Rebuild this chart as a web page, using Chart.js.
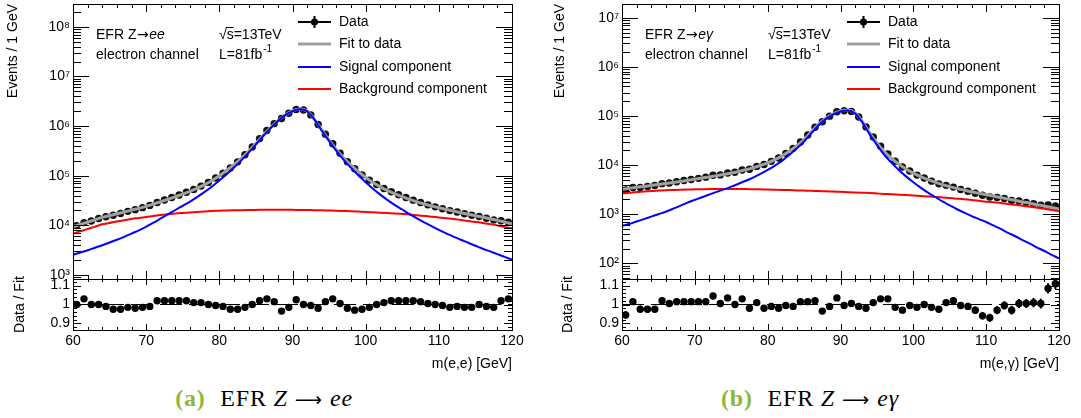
<!DOCTYPE html>
<html>
<head>
<meta charset="utf-8">
<script src="https://cdn.jsdelivr.net/npm/chart.js@4.4.1/dist/chart.umd.min.js"></script>
<style>
  html, body { margin: 0; padding: 0; background: #fff; }
  body { width: 1081px; height: 418px; position: relative; overflow: hidden; }
  canvas { position: absolute; }
  .cap {
    position: absolute; top: 384px; transform: translateX(-50%);
    font-family: "Liberation Serif", "DejaVu Serif", serif; font-size: 24px;
    letter-spacing: 0.8px; color: #000; white-space: nowrap; line-height: 28px;
  }
  .cap b { color: #8cb83a; margin-right: 8px; }
  .cap .ar { font-family: "DejaVu Sans", sans-serif; font-size: 19px; margin: 0 8px 0 7px;
             letter-spacing: 0; }
</style>
</head>
<body>
<canvas id="eeMain" width="540" height="290" style="left:0;top:0"></canvas>
<canvas id="eeRatio" width="540" height="108" style="left:0;top:270px"></canvas>
<canvas id="egMain" width="541" height="290" style="left:540px;top:0"></canvas>
<canvas id="egRatio" width="541" height="108" style="left:540px;top:270px"></canvas>
<div class="cap" style="left:264px"><b>(a)</b> EFR <i>Z</i><span class="ar">&#x27F6;</span><i>ee</i></div>
<div class="cap" style="left:810px"><b>(b)</b> EFR <i>Z</i><span class="ar">&#x27F6;</span><i>e&gamma;</i></div>
<script>
// Fit curves are sampled every 1 GeV, data are per 1 GeV bin.
const massGrid = [60,61,62,63,64,65,66,67,68,69,70,71,72,73,74,75,76,77,78,79,80,81,82,83,84,85,86,87,88,89,90,
  91,92,93,94,95,96,97,98,99,100,101,102,103,104,105,106,107,108,109,110,111,112,113,114,115,116,117,118,119,120];
const binCentres = [60.5,61.5,62.5,63.5,64.5,65.5,66.5,67.5,68.5,69.5,70.5,71.5,72.5,73.5,74.5,75.5,76.5,77.5,78.5,79.5,
  80.5,81.5,82.5,83.5,84.5,85.5,86.5,87.5,88.5,89.5,90.5,91.5,92.5,93.5,94.5,95.5,96.5,97.5,98.5,99.5,
  100.5,101.5,102.5,103.5,104.5,105.5,106.5,107.5,108.5,109.5,110.5,111.5,112.5,113.5,114.5,115.5,116.5,117.5,118.5,119.5];

// ---- Z -> ee ----
const eeData = [9910,11390,12300,13720,14950,16010,17410,19170,20770,22790,25290,28990,32430,36420,41030,46430,52810,61860,73390,89800,
  112500,143100,190600,264300,379600,560400,815900,1122700,1428300,1820400,2164800,2112000,1683900,1079100,687200,441400,283600,192200,138250,104300,
  81750,66470,55420,47510,41300,36350,32230,28820,25950,23620,21620,19860,18560,17140,15960,15120,13950,12910,12380,11530];
const eeFit = [9370,10450,11660,12950,14480,15720,17130,18590,20340,22040,24240,26850,30000,33590,37820,42630,48400,56180,66320,80450,
  100050,127200,166400,224500,312100,447100,651650,932650,1279650,1680650,2015550,2208500,2015400,1369300,833000,521150,335900,228400,163800,121250,
  92730,73250,59690,50060,43100,37890,33390,29800,26980,24660,22580,20870,19460,18030,16770,15640,14590,13590,12630,11650,10740];
const eeSignal = [2570,2850,3160,3550,3980,4520,5130,5890,6840,7940,9440,11350,13800,16790,20420,24830,30200,37580,47320,60950,
  80350,107200,146200,204200,291700,426600,631000,912000,1259000,1660000,1995000,2188000,1995000,1349000,812800,501200,316200,208900,144500,102300,
  74130,54950,41690,32360,25700,20890,16790,13800,11480,9660,8130,6920,5960,5130,4470,3890,3390,2990,2630,2320,2040];
const eeBackground = [6800,7600,8500,9400,10500,11200,12000,12700,13500,14100,14800,15500,16200,16800,17400,17800,18200,18600,19000,19500,
  19700,20000,20200,20300,20400,20500,20650,20650,20650,20650,20550,20500,20400,20300,20200,19950,19700,19500,19300,18950,
  18600,18300,18000,17700,17400,17000,16600,16000,15500,15000,14450,13950,13500,12900,12300,11750,11200,10600,10000,9330,8700];
const eeRatio = [1.00,1.03,1.00,1.00,0.99,0.975,0.975,0.985,0.98,0.985,0.99,1.02,1.02,1.02,1.02,1.02,1.01,1.01,1.00,0.995,
  0.99,0.975,0.975,0.985,1.00,1.02,1.03,1.015,0.965,0.985,1.025,1.00,0.995,0.98,1.015,1.03,1.005,0.98,0.97,0.975,
  0.985,1.00,1.01,1.02,1.02,1.02,1.02,1.015,1.005,1.00,0.995,0.985,0.99,0.985,0.985,1.00,0.99,0.985,1.02,1.03];
const eeRatioErr = [0.010,0.010,0.009,0.009,0.008,0.008,0.0075,0.007,0.007,0.0065,0.006,0.006,0.0055,0.0053,0.005,0.0047,0.0045,0.0042,0.004,0.0036,
  0.0032,0.0028,0.0025,0.0021,0.0017,0.0014,0.0011,0.0009,0.0008,0.0007,0.0007,0.0007,0.0008,0.0009,0.0012,0.0016,0.002,0.0024,0.0028,0.0031,
  0.0034,0.0038,0.0042,0.0045,0.0048,0.005,0.0053,0.0056,0.006,0.0063,0.0066,0.0069,0.0072,0.0075,0.0078,0.008,0.0083,0.0087,0.009,0.0094];

// ---- Z -> e gamma ----
const egData = [3098,3491,3511,3664,3833,4188,4316,4582,4835,5099,5371,5677,6188,6301,6898,7145,7949,8235,9386,10256,
  11903,13888,17278,21899,29511,41047,58742,76013,99050,122094,128086,123906,94956,59883,37213,24282,16779,11925,9109,7565,
  6247,5436,4700,4144,3865,3557,3190,2937,2675,2423,2242,2187,2093,1907,1849,1732,1631,1522,1539,1467];
const egFit = [3205,3351,3528,3674,3841,4020,4192,4398,4629,4898,5150,5433,5752,6091,6449,6881,7409,8026,8779,9807,
  11123,12922,15420,19310,24930,33220,47660,67520,90020,110080,125850,131610,114970,76860,45350,28340,18810,13770,10443,8338,
  6867,5817,5054,4489,4010,3644,3329,3082,2852,2664,2492,2329,2181,2027,1905,1775,1671,1559,1468,1368,1276];
const egSignal = [575,631,708,794,891,1000,1122,1288,1479,1718,1950,2213,2512,2851,3199,3631,4169,4786,5559,6607,
  7943,9772,12300,16220,21880,30200,44670,64570,87100,107200,123000,128800,112200,74130,42660,25700,16220,11220,7943,5888,
  4467,3467,2754,2239,1820,1514,1259,1072,912,794,692,589,501,417,355,295,251,209,178,148,126];
const egBackground = [2630,2720,2820,2880,2950,3020,3070,3110,3150,3180,3200,3220,3240,3240,3250,3250,3240,3240,3220,3200,
  3180,3150,3120,3090,3050,3020,2990,2950,2920,2880,2850,2810,2770,2730,2690,2640,2590,2550,2500,2450,
  2400,2350,2300,2250,2190,2130,2070,2010,1940,1870,1800,1740,1680,1610,1550,1480,1420,1350,1290,1220,1150];
const egRatio = [0.945,1.015,0.975,0.975,0.975,1.02,1.005,1.015,1.015,1.015,1.015,1.015,1.045,1.005,1.035,1.00,1.03,0.98,1.01,0.98,
  0.99,0.98,0.995,0.99,1.015,1.015,1.02,0.965,0.99,1.035,0.995,1.005,0.99,0.98,1.01,1.03,1.03,0.985,0.97,0.995,
  0.985,1.00,0.985,0.975,1.01,1.02,0.995,0.99,0.97,0.94,0.93,0.97,0.995,0.97,1.005,1.005,1.01,1.005,1.085,1.11];
const egRatioErr = [0.020,0.018,0.018,0.017,0.017,0.017,0.016,0.016,0.015,0.015,0.015,0.014,0.014,0.013,0.013,0.013,0.012,0.012,0.011,0.011,
  0.010,0.009,0.008,0.007,0.006,0.006,0.005,0.004,0.004,0.003,0.003,0.003,0.003,0.004,0.005,0.006,0.007,0.008,0.010,0.011,
  0.012,0.013,0.014,0.015,0.016,0.017,0.018,0.019,0.019,0.020,0.021,0.021,0.022,0.023,0.024,0.024,0.025,0.026,0.027,0.028];

// Axis tick values
const massTicks = [60, 70, 80, 90, 100, 110, 120];
const ratioTicks = [0.9, 1, 1.1];

const SANS = '"Liberation Sans", Arial, Helvetica, sans-serif';
const SUP = {'0':'⁰','1':'¹','2':'²','3':'³','4':'⁴','5':'⁵','6':'⁶','7':'⁷','8':'⁸','9':'⁹','-':'⁻'};
const pts = (xs, ys) => xs.map((x, i) => ({x, y: ys[i]}));

// Frame with inward ROOT-style ticks on all four sides
function framePlugin(t) {
  return {
    id: 'frame',
    afterDraw(chart) {
      const {ctx, chartArea: a, scales: {x, y}} = chart;
      ctx.save();
      ctx.strokeStyle = '#000';
      ctx.lineWidth = 1;
      ctx.beginPath();
      for (let v = x.min; v <= x.max + 1e-9; v += t.xMinorStep) {
        const px = Math.round(x.getPixelForValue(v)) + 0.5;
        const major = Math.abs(v / t.xMajorStep - Math.round(v / t.xMajorStep)) < 1e-6;
        const L = major ? t.xMajor : t.xMinor;
        ctx.moveTo(px, a.bottom); ctx.lineTo(px, a.bottom - L);
        ctx.moveTo(px, a.top); ctx.lineTo(px, a.top + L);
      }
      t.yTicks(y).forEach(([v, major]) => {
        const py = Math.round(y.getPixelForValue(v)) + 0.5;
        const L = major ? t.yMajor : t.yMinor;
        ctx.moveTo(a.left, py); ctx.lineTo(a.left + L, py);
        ctx.moveTo(a.right, py); ctx.lineTo(a.right - L, py);
      });
      ctx.stroke();
      ctx.strokeRect(Math.round(a.left) + 0.5, Math.round(a.top) + 0.5,
                     Math.round(a.right - a.left), Math.round(a.bottom - a.top));
      ctx.restore();
    }
  };
}
const logTicks = (y) => {
  const out = [];
  for (let d = Math.floor(Math.log10(y.min)); d <= Math.ceil(Math.log10(y.max)); d++) {
    for (let k = 1; k <= 9; k++) {
      const v = k * Math.pow(10, d);
      if (v >= y.min && v <= y.max) out.push([v, k === 1]);
    }
  }
  return out;
};
const ratioMinor = (y) => {
  const out = [];
  for (let i = 44; i <= 56; i++) {
    const v = i * 0.02;
    if (v >= y.min && v <= y.max) out.push([v, i % 5 === 0]);
  }
  return out;
};

// Error bars for the data points of one dataset
const errorBarPlugin = {
  id: 'errorBars',
  afterDatasetsDraw(chart, args, opts) {
    if (!opts.errors) return;
    const {ctx, chartArea: a} = chart;
    const ys = chart.scales.y;
    const ds = chart.data.datasets[opts.dataset];
    const meta = chart.getDatasetMeta(opts.dataset);
    ctx.save();
    ctx.beginPath(); ctx.rect(a.left, a.top, a.right - a.left, a.bottom - a.top); ctx.clip();
    ctx.strokeStyle = '#000'; ctx.lineWidth = 2;
    ctx.beginPath();
    meta.data.forEach((p, i) => {
      const v = ds.data[i].y, e = opts.errors[i];
      ctx.moveTo(p.x, ys.getPixelForValue(v + e));
      ctx.lineTo(p.x, ys.getPixelForValue(v - e));
    });
    ctx.stroke();
    ctx.restore();
  }
};

// In-frame labels and legend
function labelPlugin(final) {
  return {
    id: 'labels',
    afterDraw(chart) {
      const {ctx, chartArea: a} = chart;
      ctx.save();
      ctx.fillStyle = '#000';
      ctx.textBaseline = 'middle';
      const x0 = a.left + 23, x1 = a.left + 146;
      ctx.font = '14px ' + SANS;
      ctx.fillText('EFR Z', x0, 35);
      let w = ctx.measureText('EFR Z').width;
      ctx.font = '14px "DejaVu Sans", sans-serif';
      ctx.fillText('\u2192', x0 + w + 0.5, 35);
      w += ctx.measureText('\u2192').width + 1;
      ctx.font = 'italic 14px ' + SANS;
      ctx.fillText(final, x0 + w, 35);
      ctx.font = '14px ' + SANS;
      ctx.fillText('electron channel', x0, 55);
      // sqrt(s)=13TeV with an overbar on s
      ctx.fillText('\u221As=13TeV', x1, 35);
      const wr = ctx.measureText('\u221A').width, ws = ctx.measureText('s').width;
      ctx.strokeStyle = '#000'; ctx.lineWidth = 1;
      ctx.beginPath(); ctx.moveTo(x1 + wr - 1, 27.5); ctx.lineTo(x1 + wr + ws, 27.5); ctx.stroke();
      ctx.fillText('L=81fb', x1, 55);
      const wl = ctx.measureText('L=81fb').width;
      ctx.font = '10px ' + SANS;
      ctx.fillText('-1', x1 + wl + 1, 49);

      // legend
      const lx0 = a.left + 225, lx1 = a.left + 258, tx = a.left + 266;
      const rows = [22, 44, 67, 89];
      ctx.lineCap = 'butt';
      ctx.strokeStyle = '#000'; ctx.lineWidth = 2;
      ctx.beginPath(); ctx.moveTo(lx0, rows[0]); ctx.lineTo(lx1, rows[0]);
      ctx.moveTo((lx0 + lx1) / 2, rows[0] - 6); ctx.lineTo((lx0 + lx1) / 2, rows[0] + 6); ctx.stroke();
      ctx.fillStyle = '#000';
      ctx.beginPath(); ctx.arc((lx0 + lx1) / 2, rows[0], 3.6, 0, Math.PI * 2); ctx.fill();
      [['#a0a0a0', 3], ['#0000ff', 2], ['#ff0000', 2]].forEach(([c, lw], i) => {
        ctx.strokeStyle = c; ctx.lineWidth = lw;
        ctx.beginPath(); ctx.moveTo(lx0, rows[i + 1]); ctx.lineTo(lx1, rows[i + 1]); ctx.stroke();
      });
      ctx.fillStyle = '#000';
      ctx.font = '14px ' + SANS;
      ['Data', 'Fit to data', 'Signal component', 'Background component']
        .forEach((s, i) => ctx.fillText(s, tx, rows[i]));
      ctx.restore();
    }
  };
}

function fixWidth(w) {
  return (scale) => { scale.width = w; scale.paddingTop = 0; scale.paddingBottom = 0; };
}

function mainChart(id, p) {
  const curve = (label, ys, color, width, order) => ({
    label, data: pts(massGrid, ys), borderColor: color, borderWidth: width,
    pointRadius: 0, cubicInterpolationMode: 'monotone', fill: false, order
  });
  return new Chart(document.getElementById(id), {
    type: 'line',
    data: {
      datasets: [
        {label: 'Data', data: pts(binCentres, p.data), showLine: false, pointRadius: 3.7,
         pointBackgroundColor: '#111', pointBorderWidth: 0, order: 5},
        curve('Fit to data', p.fit, '#a0a0a0', 3, 4),
        curve('Background component', p.bkg, '#ff0000', 2, 3),
        curve('Signal component', p.sig, '#0000ff', 2, 2)
      ]
    },
    options: {
      responsive: false, animation: false, devicePixelRatio: 1,
      layout: {padding: {left: 0, right: p.padRight, top: 1, bottom: 11}},
      plugins: {legend: {display: false}, tooltip: {enabled: false}},
      scales: {
        x: {type: 'linear', min: 60, max: 120, bounds: 'data', display: false},
        y: {
          type: 'logarithmic', min: p.yMin, max: p.yMax, bounds: 'data',
          grid: {display: false, drawTicks: false}, border: {display: false},
          afterBuildTicks: (s) => { s.ticks = p.decades.map(v => ({value: v})); },
          afterFit: fixWidth(p.axisW),
          ticks: {
            padding: 3, color: '#000', font: {family: SANS, size: 14},
            callback: (v) => '10' + String(Math.round(Math.log10(v))).split('').map(c => SUP[c]).join('')
          },
          title: {display: true, text: 'Events / 1 GeV', align: 'end', color: '#000',
                  font: {family: SANS, size: 14}, padding: {top: p.titlePad, bottom: 0}}
        }
      }
    },
    plugins: [
      framePlugin({xMinorStep: 2, xMajorStep: 10, xMajor: 8, xMinor: 4, yMajor: 16, yMinor: 8, yTicks: logTicks}),
      labelPlugin(p.final)
    ]
  });
}

function ratioChart(id, p) {
  return new Chart(document.getElementById(id), {
    type: 'line',
    data: {
      datasets: [
        {label: 'Data / Fit', data: pts(binCentres, p.ratio), showLine: false, pointRadius: 3.7,
         pointBackgroundColor: '#000', pointBorderWidth: 0, order: 1},
        {label: 'unity', data: [{x: 60, y: 1}, {x: 120, y: 1}], borderColor: '#000', borderWidth: 1,
         borderDash: [22, 7], pointRadius: 0, order: 2}
      ]
    },
    options: {
      responsive: false, animation: false, devicePixelRatio: 1,
      layout: {padding: {left: 0, right: p.padRight, top: 9, bottom: 5}},
      plugins: {legend: {display: false}, tooltip: {enabled: false},
                errorBars: {dataset: 0, errors: p.err}},
      scales: {
        x: {
          type: 'linear', min: 60, max: 120, bounds: 'data',
          grid: {display: false, drawTicks: false}, border: {display: false},
          afterBuildTicks: (s) => { s.ticks = massTicks.map(v => ({value: v})); },
          afterFit: (s) => { s.height = 43; s.paddingLeft = 0; s.paddingRight = 0; },
          ticks: {padding: 3, maxRotation: 0, autoSkip: false, color: '#000', font: {family: SANS, size: 14}},
          title: {display: true, text: p.xTitle, align: 'end', color: '#000',
                  font: {family: SANS, size: 14}, padding: {top: 0, bottom: 0}}
        },
        y: {
          type: 'linear', min: 0.865, max: 1.135, bounds: 'data',
          grid: {display: false, drawTicks: false}, border: {display: false},
          afterBuildTicks: (s) => { s.ticks = ratioTicks.map(v => ({value: v})); },
          afterFit: fixWidth(p.axisW),
          ticks: {padding: 3, color: '#000', font: {family: SANS, size: 14},
                  callback: (v) => (v === 1 ? '1' : v.toFixed(1))},
          title: {display: true, text: 'Data / Fit', align: 'center', color: '#000',
                  font: {family: SANS, size: 14}, padding: {top: p.titlePad, bottom: 0}}
        }
      }
    },
    plugins: [
      framePlugin({xMinorStep: 2, xMajorStep: 10, xMajor: 6, xMinor: 3, yMajor: 8, yMinor: 4, yTicks: ratioMinor}),
      errorBarPlugin
    ]
  });
}

mainChart('eeMain', {data: eeData, fit: eeFit, sig: eeSignal, bkg: eeBackground, final: 'ee',
  yMin: Math.pow(10, 2.92), yMax: Math.pow(10, 8.46), decades: [1e3, 1e4, 1e5, 1e6, 1e7, 1e8],
  padRight: 28, axisW: 73, titlePad: 4.5});
ratioChart('eeRatio', {ratio: eeRatio, err: eeRatioErr, xTitle: 'm(e,e) [GeV]',
  padRight: 28, axisW: 73, titlePad: 11.5});
mainChart('egMain', {data: egData, fit: egFit, sig: egSignal, bkg: egBackground, final: 'e\u03B3',
  yMin: Math.pow(10, 1.68), yMax: Math.pow(10, 7.28), decades: [1e2, 1e3, 1e4, 1e5, 1e6, 1e7],
  padRight: 22, axisW: 82, titlePad: 11.5});
ratioChart('egRatio', {ratio: egRatio, err: egRatioErr, xTitle: 'm(e,\u03B3) [GeV]',
  padRight: 22, axisW: 82, titlePad: 20});
</script>
</body>
</html>
